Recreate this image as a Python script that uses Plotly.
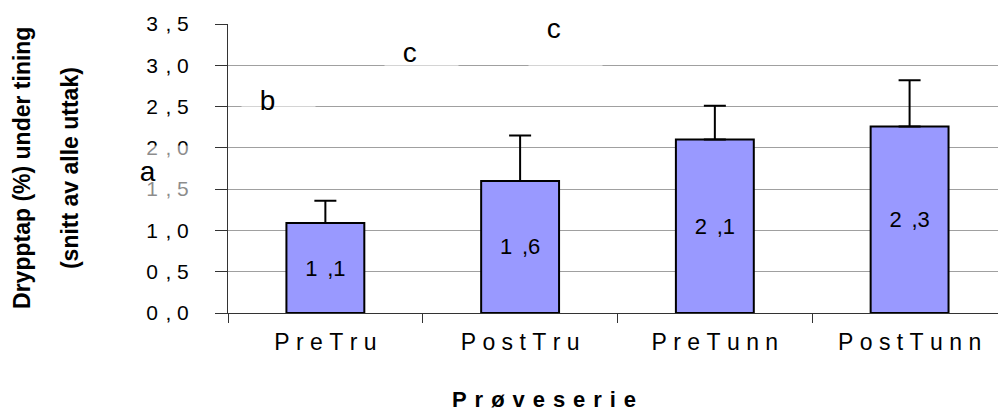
import plotly.graph_objects as go

# ---- data ----
categories = ["PreTru", "PostTru", "PreTunn", "PostTunn"]
means = [1.09, 1.60, 2.10, 2.26]
err_plus = [0.27, 0.55, 0.41, 0.56]
y_ticks = [0.0, 0.5, 1.0, 1.5, 2.0, 2.5, 3.0, 3.5]
sig_letters = ["a", "b", "c", "c"]
# positions of the significance letters (category index units, y units)
letter_x = [-0.91, -0.295, 0.441, 1.18]
letter_y = [1.68, 2.54, 3.12, 3.41]

FONT = "Liberation Sans, Arial, sans-serif"
NB = "\u00a0"
SIX = "\u2006"
HAIR = "\u200a"
X_RANGE = [-0.5, 3.454]
Y_RANGE = [0, 3.5]


def spaced(s, sep):
    return sep.join(list(s))


def tick_fmt(v):
    a, b = f"{v:.1f}".split(".")
    return a + NB + HAIR + "," + NB + b


def bar_fmt(v):
    a, b = f"{v:.1f}".split(".")
    return a + NB + SIX + "," + b


cat_text = [spaced(c, NB) for c in categories]

fig = go.Figure()
fig.add_trace(go.Bar(
    x=categories,
    y=means,
    width=0.4,
    marker=dict(color="#9999FF", line=dict(color="black", width=2)),
    error_y=dict(type="data", array=err_plus, symmetric=False,
                 arrayminus=[0] * len(err_plus),
                 color="black", thickness=2, width=11),
    text=[bar_fmt(v) for v in means],
    textposition="inside",
    insidetextanchor="middle",
    textangle=0,
    textfont=dict(family=FONT, size=22, color="black"),
    constraintext="none",
    showlegend=False,
))

annotations = []
for lx, ly, t in zip(letter_x, letter_y, sig_letters):
    px = (lx - X_RANGE[0]) / (X_RANGE[1] - X_RANGE[0])
    py = (ly - Y_RANGE[0]) / (Y_RANGE[1] - Y_RANGE[0])
    annotations.append(dict(
        x=px, y=py, xref="paper", yref="paper", text=NB + t, showarrow=False,
        xanchor="left", yanchor="top", xshift=-27, yshift=29,
        width=53, height=48, align="left", valign="top", borderpad=10,
        bgcolor="rgba(255,255,255,0.55)",
        font=dict(family=FONT, size=28, color="black"),
    ))

# y-axis title (two separate lines)
annotations.append(dict(
    x=-0.2675, y=0.502, xref="paper", yref="paper", text="<b>Drypptap (%) under tining</b>",
    showarrow=False, textangle=-90, xanchor="center", yanchor="middle",
    font=dict(family=FONT, size=23, color="black")))
annotations.append(dict(
    x=-0.205, y=0.502, xref="paper", yref="paper", text="<b>(snitt av alle uttak)</b>",
    showarrow=False, textangle=-90, xanchor="center", yanchor="middle",
    font=dict(family=FONT, size=23, color="black")))
# x-axis title
annotations.append(dict(
    x=0.4104, y=-0.301, xref="paper", yref="paper",
    text="<b>" + spaced("Prøveserie", NB + HAIR) + "</b>",
    showarrow=False, xanchor="center", yanchor="middle",
    font=dict(family=FONT, size=22, color="black")))

fig.update_layout(
    width=998, height=412, autosize=False,
    margin=dict(l=228, r=0, t=24, b=99, autoexpand=False),
    paper_bgcolor="white", plot_bgcolor="white",
    showlegend=False,
    annotations=annotations,
    xaxis=dict(
        type="category", range=X_RANGE,
        tickmode="array", tickvals=categories, ticktext=cat_text,
        tickson="boundaries", ticks="outside", ticklen=9, tickwidth=1, tickcolor="#333",
        ticklabelstandoff=8,
        showline=True, linecolor="#333", linewidth=1,
        showgrid=False, zeroline=False,
        tickfont=dict(family=FONT, size=23, color="black"),
    ),
    yaxis=dict(
        range=Y_RANGE, tickmode="array", tickvals=y_ticks,
        ticktext=[tick_fmt(v) for v in y_ticks],
        ticks="outside", ticklen=12, tickwidth=1, tickcolor="#333",
        ticklabelstandoff=22,
        showline=True, linecolor="#333", linewidth=1,
        showgrid=True, gridcolor="#a0a0a0", gridwidth=1,
        zeroline=False,
        tickfont=dict(family=FONT, size=21, color="black"),
    ),
)

fig.write_html("out.html")
